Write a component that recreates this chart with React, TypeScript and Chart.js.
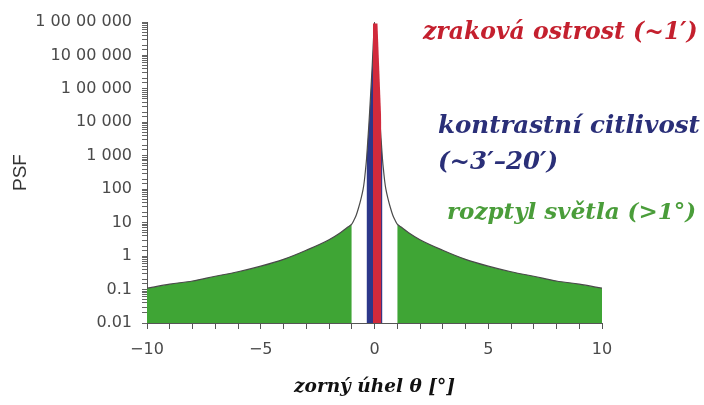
import React, { useEffect, useRef } from 'react';
import { Chart, registerables } from 'chart.js';

Chart.register(...registerables);

// ---- data ----
const curveX = [-10, -9, -8, -7, -6, -5, -4, -3, -2, -1.5, -1.2, -1, -0.9, -0.8, -0.7, -0.6, -0.5, -0.45, -0.4, -0.35, -0.3, -0.25, -0.2, -0.15, -0.1, -0.05, 0, 0.05, 0.1, 0.15, 0.2, 0.25, 0.3, 0.35, 0.4, 0.45, 0.5, 0.6, 0.7, 0.8, 0.9, 1, 1.2, 1.5, 2, 3, 4, 5, 6, 7, 8, 9, 10];
const curveY = [0.11, 0.145, 0.18, 0.25, 0.34, 0.5, 0.8, 1.5, 3.1, 5, 7.2, 9, 12, 17, 28, 50, 100, 170, 350, 800, 2500, 8000, 3e4, 1.2e5, 5e5, 2.5e6, 1e7, 2.5e6, 5e5, 1.2e5, 3e4, 8000, 2500, 800, 350, 170, 100, 50, 28, 17, 12, 9, 7.2, 5, 3.1, 1.5, 0.8, 0.5, 0.34, 0.25, 0.18, 0.145, 0.11];

const greenLeftRange = [-10, -1];
const greenRightRange = [1, 10];
const blueRange = [-0.35, 0.35];

const redX = [-0.07, 0.13, 0.3, 0.3];
const redY = [9e6, 9e6, 1e4, 0.01];

const yTickValues = [1e7, 1e6, 1e5, 1e4, 1e3, 100, 10, 1, 0.1, 0.01];
const yTickLabels = ['1 00 00 000', '10 00 000', '1 00 000', '10 000', '1 000', '100', '10', '1', '0.1', '0.01'];

const xTickValues = [-10, -5, 0, 5, 10];
const xTickLabels = ['\u221210', '\u22125', '0', '5', '10'];

const annotationTexts = [
  'zraková ostrost (~1\u2032)',
  'kontrastní citlivost',
  '(~3\u2032\u201320\u2032)',
  'rozptyl světla (>1°)',
];

const xTitle = 'zorný úhel θ [°]';
const yTitle = 'PSF';

// ---- helpers ----
const pointsIn = (lo: number, hi: number) =>
  curveX.map((x, i) => ({ x, y: curveY[i] })).filter((p) => p.x >= lo - 1e-9 && p.x <= hi + 1e-9);

const GREEN = '#3fa535';
const BLUE = '#2c378a';
const RED = '#d12a3c';

const annotationStyle = [
  { color: '#c4202e', x: 423, y: 33, size: 23.5 },
  { color: '#2a2f78', x: 438, y: 127, size: 24.5 },
  { color: '#2a2f78', x: 438, y: 163, size: 24.5 },
  { color: '#4a9d3a', x: 447, y: 213, size: 23 },
];

const annotationPlugin = {
  id: 'psfAnnotations',
  afterDraw(chart: any) {
    const ctx = chart.ctx;
    ctx.save();
    ctx.textBaseline = 'middle';
    ctx.textAlign = 'left';
    annotationTexts.forEach((t, i) => {
      const s = annotationStyle[i];
      ctx.font = `italic bold ${s.size}px "DejaVu Serif"`;
      ctx.fillStyle = s.color;
      ctx.fillText(t, s.x, s.y);
    });
    ctx.restore();
  },
};

export default function App() {
  const ref = useRef<HTMLCanvasElement | null>(null);

  useEffect(() => {
    if (!ref.current) return;
    const fillDs = (data: any[], color: string, order: number) => ({
      data,
      borderWidth: 0,
      borderColor: 'rgba(0,0,0,0)',
      backgroundColor: color,
      fill: 'start',
      pointRadius: 0,
      cubicInterpolationMode: 'monotone',
      order,
    });
    const chart = new Chart(ref.current, {
      type: 'line',
      data: {
        datasets: [
          { ...fillDs(redX.map((x, i) => ({ x, y: redY[i] })), RED, 0), cubicInterpolationMode: 'default', tension: 0 },
          {
            data: curveX.map((x, i) => ({ x, y: curveY[i] })),
            borderColor: '#4a4a4a',
            borderWidth: 1.2,
            fill: false,
            pointRadius: 0,
            cubicInterpolationMode: 'monotone',
            order: 1,
          },
          fillDs(pointsIn(blueRange[0], blueRange[1]), BLUE, 2),
          fillDs(pointsIn(greenLeftRange[0], greenLeftRange[1]), GREEN, 3),
          fillDs(pointsIn(greenRightRange[0], greenRightRange[1]), GREEN, 3),
        ] as any,
      },
      options: {
        animation: false,
        responsive: false,
        events: [],
        layout: { padding: { left: 0, right: 102, top: 22, bottom: 0 } },
        plugins: { legend: { display: false }, tooltip: { enabled: false } },
        scales: {
          x: {
            type: 'linear',
            min: -10,
            max: 10,
            afterFit: (s: any) => { s.height = 82; },
            grid: { drawOnChartArea: false, drawTicks: true, tickLength: 6, color: '#555', tickColor: '#555' },
            border: { display: true, color: '#555', width: 1 },
            ticks: {
              stepSize: 1,
              autoSkip: false,
              maxRotation: 0,
              padding: 11,
              color: '#4a4a4a',
              font: { family: '"DejaVu Sans"', size: 16 },
              callback: (v: any) => {
                const i = xTickValues.findIndex((t) => Math.abs(t - Number(v)) < 1e-9);
                return i >= 0 ? xTickLabels[i] : '';
              },
            },
            title: {
              display: true,
              text: xTitle,
              color: '#111',
              font: { family: '"DejaVu Serif"', size: 18.5, weight: 'bold', style: 'italic' },
              padding: { top: 0, bottom: 7 },
            },
          },
          y: {
            type: 'logarithmic',
            min: 0.01,
            max: 1e7,
            afterFit: (s: any) => { s.width = 147; },
            grid: { drawOnChartArea: false, drawTicks: true, tickLength: 5, color: '#666', tickColor: '#666' },
            border: { display: true, color: '#555', width: 1 },
            ticks: {
              autoSkip: false,
              padding: 10,
              color: '#4a4a4a',
              font: { family: '"DejaVu Sans"', size: 16 },
              callback: (v: any) => {
                const val = Number(v);
                const i = yTickValues.findIndex((t) => Math.abs(t - val) / t < 1e-6);
                return i >= 0 ? yTickLabels[i] : '';
              },
            },
            title: {
              display: true,
              text: yTitle,
              color: '#333',
              font: { family: '"Liberation Sans"', size: 19 },
              padding: { top: 9, bottom: 0 },
            },
          },
        },
      } as any,
      plugins: [annotationPlugin],
    });
    return () => chart.destroy();
  }, []);

  return (
    <div style={{ position: 'fixed', left: 0, top: 0, width: 704, height: 405, background: '#fff' }}>
      <canvas ref={ref} width={704} height={405} style={{ display: 'block' }} />
    </div>
  );
}
